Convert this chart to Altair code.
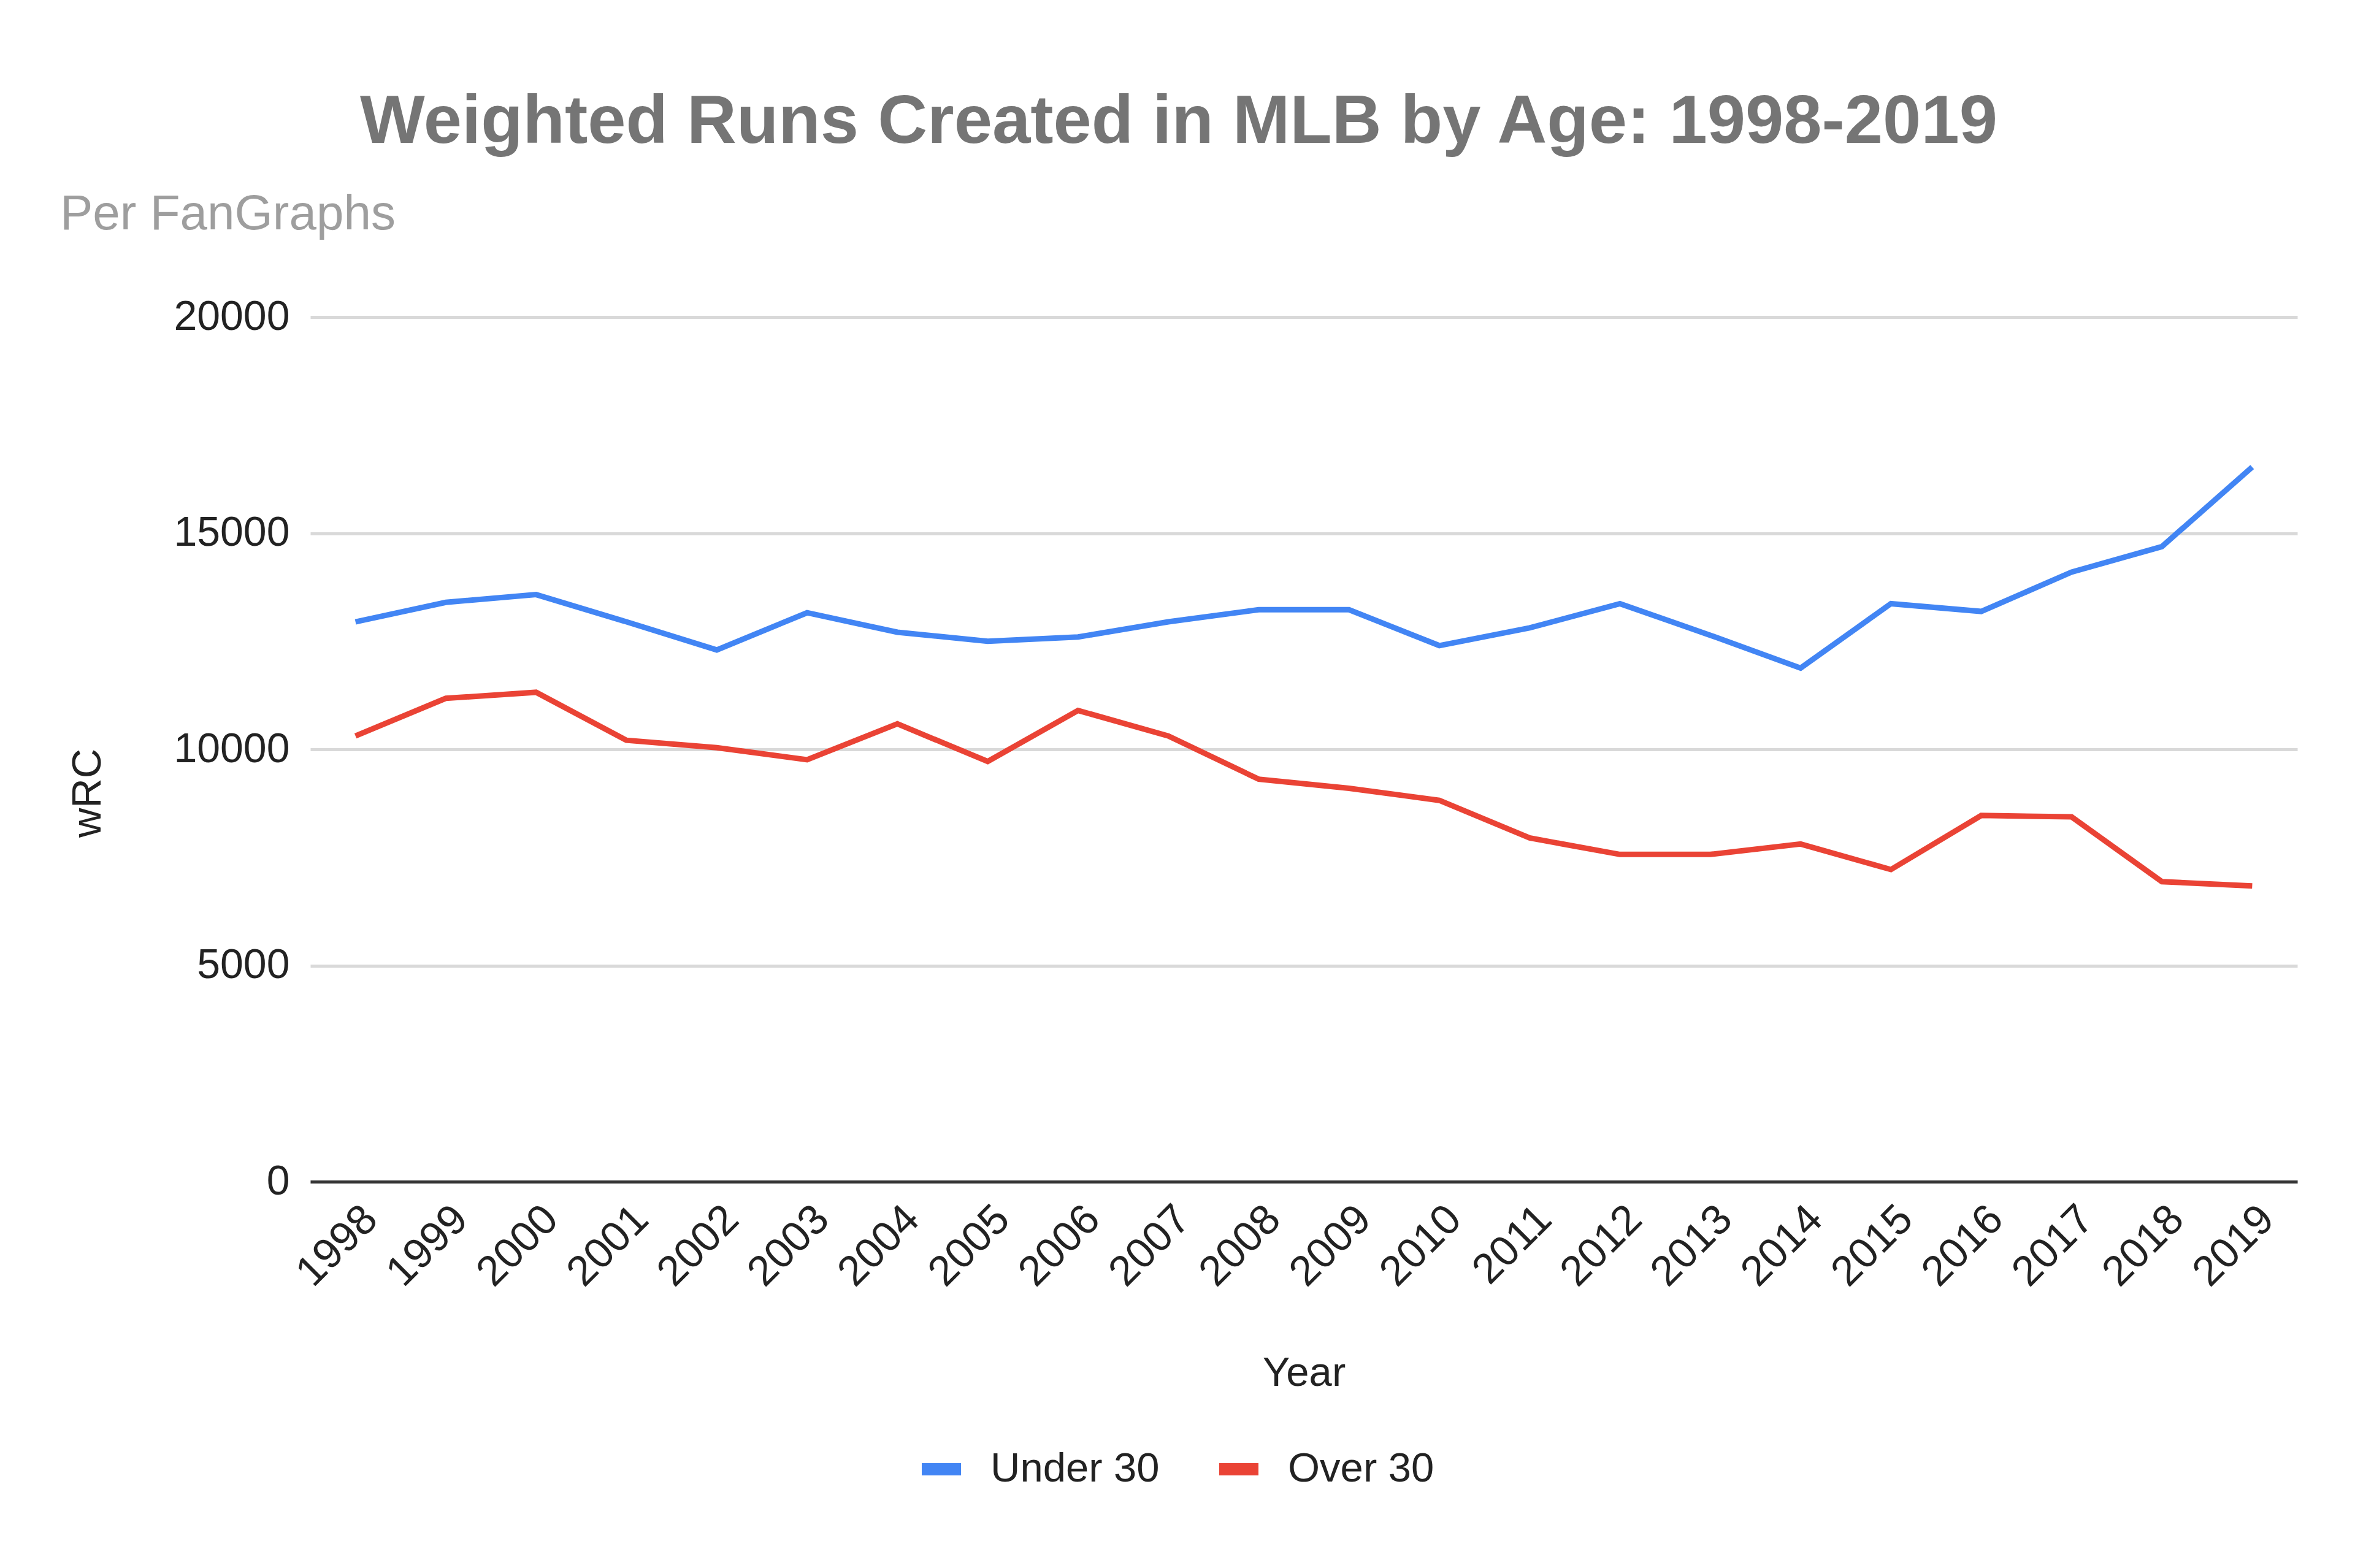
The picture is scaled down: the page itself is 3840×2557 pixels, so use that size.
import altair as alt
import pandas as pd

years = [str(y) for y in range(1998, 2020)]
under_30 = [12950, 13400, 13580, 12950, 12300, 13160, 12710, 12500, 12600, 12950, 13230,
            13230, 12400, 12810, 13370, 12640, 11880, 13370, 13190, 14100, 14690, 16530]
over_30 = [10310, 11180, 11320, 10210, 10040, 9760, 10590, 9720, 10900, 10310, 9310,
           9100, 8820, 7950, 7570, 7570, 7810, 7220, 8470, 8440, 6940, 6840]
series_names = ["Under 30", "Over 30"]
series_colors = ["#4285F4", "#EA4335"]
y_ticks = [0, 5000, 10000, 15000, 20000]

title_text = "Weighted Runs Created in MLB by Age: 1998-2019"
subtitle_text = "Per FanGraphs"

rows = []
for name, vals in zip(series_names, [under_30, over_30]):
    for yr, v in zip(years, vals):
        rows.append({"Year": yr, "wRC": v, "Series": name})
df = pd.DataFrame(rows)

FONT = "Liberation Sans"

lines = alt.Chart(df).mark_line(strokeWidth=9).encode(
    x=alt.X("Year:O", sort=years, scale=alt.Scale(paddingOuter=0.5),
            axis=alt.Axis(title="Year", labelAngle=-45, labelFontSize=69, labelColor="#222222",
                          labelFont=FONT, labelPadding=26, labelLimit=0, ticks=False, grid=False,
                          domainColor="#333333", domainWidth=5,
                          titleFontSize=67, titleFontWeight="normal", titleColor="#222222",
                          titleFont=FONT, titlePadding=96)),
    y=alt.Y("wRC:Q", scale=alt.Scale(domain=[0, 20000], nice=False),
            axis=alt.Axis(title="wRC", values=y_ticks, format="d", labelFontSize=68,
                          labelColor="#222222", labelFont=FONT, labelPadding=34, labelLimit=0,
                          ticks=False, domain=False, gridColor="#d9d9d9", gridWidth=5,
                          titleFontSize=67, titleFontWeight="normal", titleColor="#222222",
                          titleFont=FONT, titleAngle=-90, titleAlign="center",
                          titleBaseline="middle", titleX=-363, titleY=776)),
    color=alt.Color("Series:N", sort=series_names,
                    scale=alt.Scale(domain=series_names, range=series_colors),
                    legend=alt.Legend(title=None, orient="none", legendX=987, legendY=1837,
                                      direction="horizontal", symbolType="stroke",
                                      symbolSize=4096, symbolStrokeWidth=20,
                                      labelFontSize=67, labelFont=FONT, labelColor="#222222",
                                      labelLimit=0, labelOffset=38, columnPadding=57)),
)

sub = alt.Chart(pd.DataFrame({"t": [subtitle_text]})).mark_text(
    align="left", baseline="alphabetic", fontSize=80, font=FONT, color="#9e9e9e"
).encode(text="t:N", x=alt.value(-408), y=alt.value(-143))

chart = alt.layer(lines, sub).properties(
    width=3240, height=1410,
    title=alt.TitleParams(title_text, fontSize=112, font=FONT, fontWeight="bold",
                          color="#757575", anchor="middle", frame="bounds", offset=53),
    padding={"left": 498, "top": 509, "right": 86, "bottom": 622},
    autosize=alt.AutoSizeParams(type="none"),
    background="white",
).configure_view(stroke=None)

chart.save("out.html", embed_options={"renderer": "svg", "actions": False})
